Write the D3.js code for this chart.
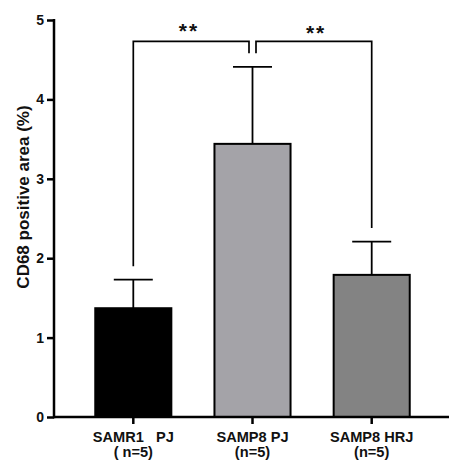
<!DOCTYPE html>
<html>
<head>
<meta charset="utf-8">
<script src="https://cdn.jsdelivr.net/npm/d3@7"></script>
<style>
  body { margin: 0; background: #fff; }
  svg { display: block; font-family: "Liberation Sans", Arial, sans-serif; }
</style>
</head>
<body>
<div id="chart"></div>
<script>
'use strict';

// data
var groups = ["SAMR1   PJ", "SAMP8 PJ", "SAMP8 HRJ"];
var groupN = ["( n=5)", "(n=5)", "(n=5)"];
var means = [1.37, 3.44, 1.79];
var sds = [0.36, 0.97, 0.42];
var fills = ["#000000", "#a4a3a8", "#838383"];
var yTicks = [0, 1, 2, 3, 4, 5];
var comparisons = [
    { a: 0, b: 1, label: "**" },
    { a: 1, b: 2, label: "**" }
];

var width = 449, height = 462;
var plotLeft = 54, plotTop = 20, plotBottom = 417;

var svg = d3.select("#chart").append("svg")
    .attr("width", width)
    .attr("height", height);

var x = d3.scaleBand()
    .domain(d3.range(groups.length))
    .range([73.7, 431.3])
    .paddingInner(0.345)
    .paddingOuter(0.1725);

var y = d3.scaleLinear()
    .domain([0, 5])
    .range([plotBottom, plotTop]);

function cx(i) { return x(i) + x.bandwidth() / 2; }

// bars
svg.selectAll(".bar")
    .data(means)
    .enter().append("rect")
    .attr("class", "bar")
    .attr("x", function (d, i) { return x(i) + 1; })
    .attr("width", x.bandwidth() - 2)
    .attr("y", function (d) { return y(d); })
    .attr("height", function (d) { return y(0) - y(d); })
    .attr("fill", function (d, i) { return fills[i]; })
    .attr("stroke", "#000")
    .attr("stroke-width", 2);

// error bars (upper only)
var capW = 39;
var eb = svg.selectAll(".err")
    .data(means)
    .enter().append("g")
    .attr("class", "err")
    .attr("stroke", "#000")
    .attr("stroke-width", 1.8);
eb.append("line")
    .attr("x1", function (d, i) { return cx(i); })
    .attr("x2", function (d, i) { return cx(i); })
    .attr("y1", function (d) { return y(d); })
    .attr("y2", function (d, i) { return y(d + sds[i]); });
eb.append("line")
    .attr("x1", function (d, i) { return cx(i) - capW / 2; })
    .attr("x2", function (d, i) { return cx(i) + capW / 2; })
    .attr("y1", function (d, i) { return y(d + sds[i]); })
    .attr("y2", function (d, i) { return y(d + sds[i]); });

// axes
var yAxis = svg.append("g")
    .attr("transform", "translate(" + plotLeft + ",0)")
    .call(d3.axisLeft(y).tickValues(yTicks).tickSize(7).tickPadding(3).tickFormat(d3.format("d")));
yAxis.select(".domain").attr("d", "M0," + (plotTop - 1) + "V" + (plotBottom + 1.2));
yAxis.selectAll("line, path").attr("stroke", "#000").attr("stroke-width", 2.5);
yAxis.selectAll("text")
    .attr("fill", "#111")
    .attr("font-size", 14)
    .attr("font-weight", "bold")
    .attr("font-family", "Liberation Sans, Arial, sans-serif");

svg.append("line")
    .attr("x1", plotLeft).attr("x2", width)
    .attr("y1", plotBottom).attr("y2", plotBottom)
    .attr("stroke", "#000").attr("stroke-width", 2.5);

svg.selectAll(".xtick")
    .data(groups)
    .enter().append("line")
    .attr("x1", function (d, i) { return cx(i); })
    .attr("x2", function (d, i) { return cx(i); })
    .attr("y1", plotBottom)
    .attr("y2", plotBottom + 7)
    .attr("stroke", "#000").attr("stroke-width", 2.5);

var xl = svg.selectAll(".xlabel")
    .data(groups)
    .enter().append("text")
    .attr("text-anchor", "middle")
    .attr("font-size", 14.6)
    .attr("font-weight", "bold")
    .attr("fill", "#111");
xl.append("tspan")
    .attr("x", function (d, i) { return cx(i); })
    .attr("y", 442)
    .style("white-space", "pre")
    .text(function (d) { return d; });
xl.append("tspan")
    .attr("x", function (d, i) { return cx(i); })
    .attr("y", 457)
    .style("white-space", "pre")
    .text(function (d, i) { return groupN[i]; });

svg.append("text")
    .attr("transform", "translate(28.5," + 197 + ") rotate(-90)")
    .attr("text-anchor", "middle")
    .attr("font-size", 17)
    .attr("font-weight", "bold")
    .attr("fill", "#111")
    .text("CD68 positive area (%)");

// significance brackets
var bracketVal = 4.73, gap = 0.17, midGap = 3.5;
comparisons.forEach(function (c, k) {
    var xa = cx(c.a) + (k === 1 ? midGap : 0);
    var xb = cx(c.b) - (k === 0 ? midGap : 0);
    var ya = y(means[c.a] + sds[c.a] + gap);
    var yb = y(means[c.b] + sds[c.b] + gap);
    var yt = y(bracketVal);
    svg.append("path")
        .attr("d", "M" + xa + "," + ya + "V" + yt + "H" + xb + "V" + yb)
        .attr("fill", "none")
        .attr("stroke", "#000")
        .attr("stroke-width", 1.7);
    svg.append("text")
        .attr("x", (cx(c.a) + cx(c.b)) / 2 - (k === 0 ? 4 : -4))
        .attr("y", yt - 3.5 + k * 2.5)
        .attr("text-anchor", "middle")
        .attr("font-size", 21)
        .attr("font-weight", "bold")
        .attr("letter-spacing", 2)
        .attr("fill", "#111")
        .text(c.label);
});
</script>
</body>
</html>
